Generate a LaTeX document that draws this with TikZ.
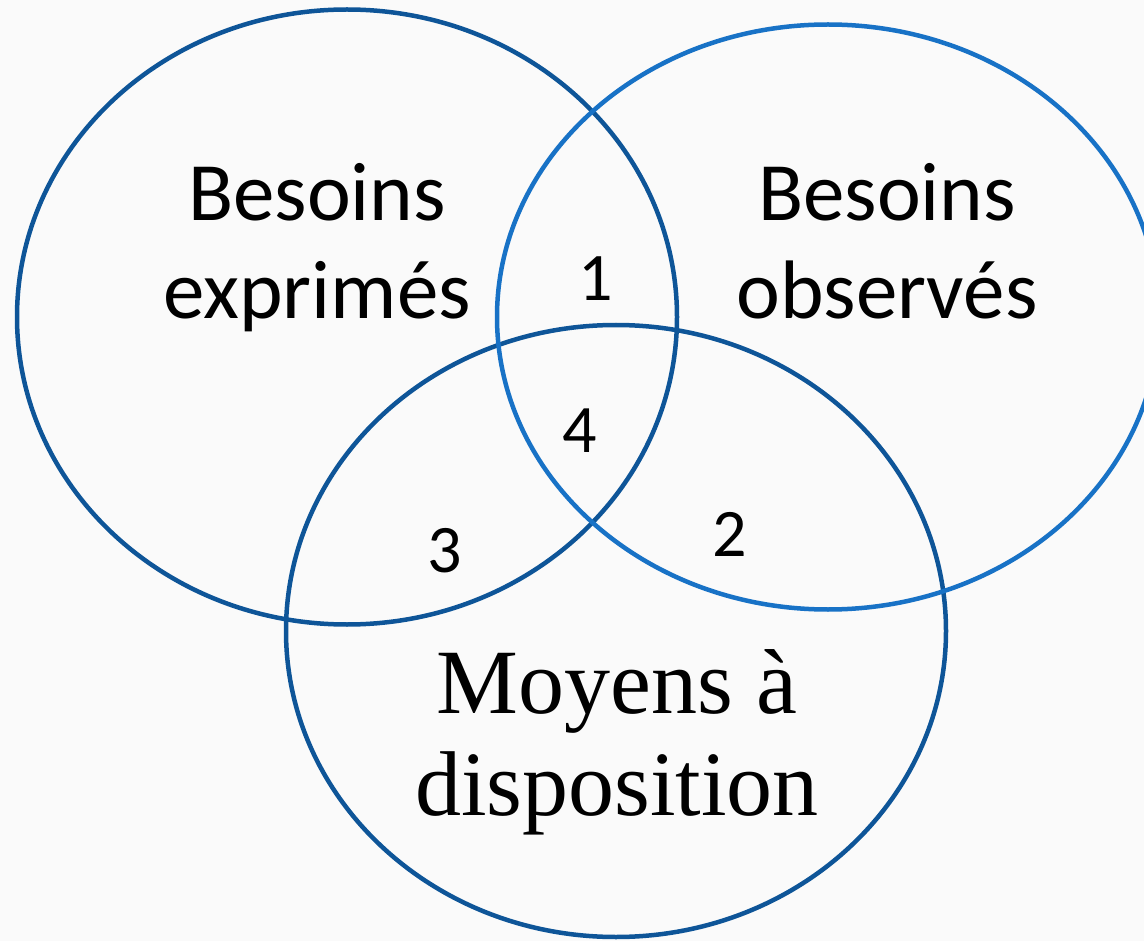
\documentclass[tikz,border=0pt]{standalone}
\usepackage{fontspec}
\setmainfont{Carlito}
\newfontfamily\moyfont{Liberation Serif}
\usepackage{tikz}
\usetikzlibrary{shapes.geometric}
\definecolor{bgcol}{HTML}{FAFAFA}
\definecolor{darkcol}{HTML}{0E5598}
\definecolor{lightcol}{HTML}{1872C6}

\begin{document}
\begin{tikzpicture}[x=1pt,y=-1pt,
  set/.style={draw,ellipse,line width=4.5pt,inner sep=0pt,outer sep=0pt},
  lbl/.style={align=center,inner sep=0pt,font=\fontsize{83}{98}\selectfont},
  num/.style={anchor=base,inner sep=0pt,font=\fontsize{68}{80}\selectfont}]
  \clip (0,0) rectangle (1144,941);
  \fill[bgcol] (0,0) rectangle (1144,941);
  % the three sets
  \node[set,darkcol,minimum width=660pt,minimum height=615pt] (expr) at (347,317) {};
  \node[set,darkcol,minimum width=660pt,minimum height=612pt] (moy) at (616,631) {};
  \node[set,lightcol,minimum width=662pt,minimum height=585pt] (obs) at (828,317) {};
  % labels
  \node[lbl] (lexpr) at (317,248) {Besoins\\exprimés};
  \node[lbl] (lobs) at (887,241) {Besoins\\observés};
  \node[lbl,font=\moyfont\fontsize{92}{102}\selectfont] (lmoy) at (617,742) {Moyens à\\disposition};
  % zones
  \node[num] (z1) at (596,301) {1};
  \node[num] (z4) at (580,452) {4};
  \node[num] (z3) at (445,572) {3};
  \node[num] (z2) at (730,556) {2};
\end{tikzpicture}
\end{document}
